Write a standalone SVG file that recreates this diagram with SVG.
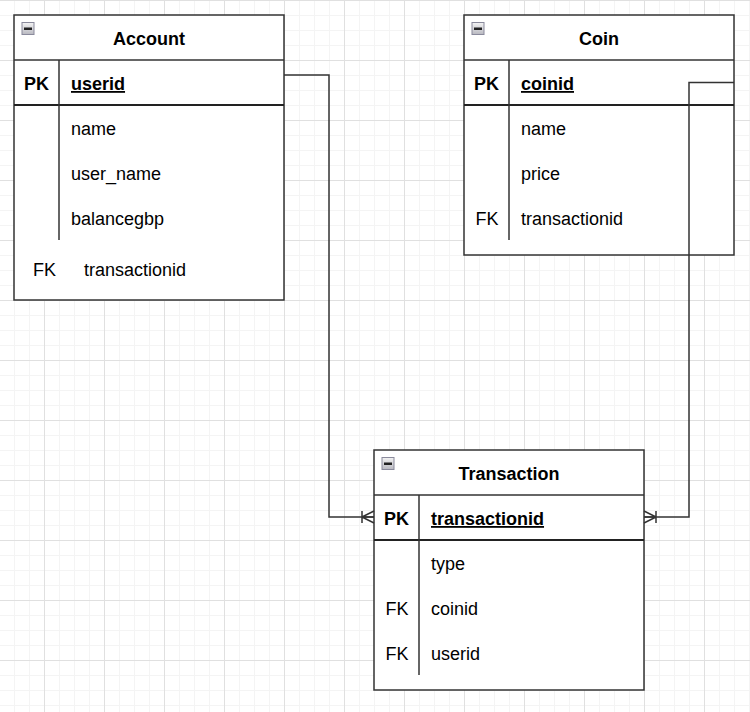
<svg xmlns="http://www.w3.org/2000/svg" width="750" height="712" viewBox="0 0 750 712">
<style>
.box{fill:#fff;stroke:#333;stroke-width:1.5}
.ln{stroke:#333;stroke-width:1.5;fill:none}
.pkln{stroke:#222;stroke-width:2;fill:none}
.t{font-family:"Liberation Sans",Arial,Helvetica,sans-serif;font-size:18px;fill:#000}
.b{font-weight:bold}
.c{text-anchor:middle}
.u{text-decoration:underline}
.conn{stroke:#333;stroke-width:1.5;fill:none}
</style>
<defs>
<pattern id="gMinor" patternUnits="userSpaceOnUse" x="14" y="0" width="15" height="15">
<path d="M0,0.5 H15 M0.5,0 V15" stroke="#f4f4f4" stroke-width="1" fill="none"/>
</pattern>
<pattern id="gMajor" patternUnits="userSpaceOnUse" x="44" y="0" width="60" height="60">
<path d="M0,0.5 H60 M0.5,0 V60" stroke="#e0e0e0" stroke-width="1" fill="none"/>
</pattern>
<linearGradient id="icoG" x1="0" y1="0" x2="0" y2="1">
<stop offset="0" stop-color="#f4f4f4"/>
<stop offset="1" stop-color="#b8b8c0"/>
</linearGradient>
<g id="ico">
<rect x="0.5" y="0.5" width="12" height="12" fill="url(#icoG)" stroke="#8a8a9c" stroke-width="1"/>
<rect x="2.5" y="5.5" width="8" height="2.5" fill="#222"/>
</g>
<marker id="oneMany" viewBox="0 0 14 14" markerWidth="14" markerHeight="14" refX="14" refY="7" orient="auto" markerUnits="userSpaceOnUse" overflow="visible">
<path d="M2,1 V13 M2,7 L14,1 M2,7 L14,13 M2,7 H14" stroke="#333" stroke-width="1.5" fill="none"/>
</marker>
</defs>
<rect width="750" height="712" fill="#fff"/>
<rect width="750" height="712" fill="url(#gMinor)"/>
<rect width="750" height="712" fill="url(#gMajor)"/>

<g id="account">
<rect class="box" x="14" y="15" width="270" height="285"/>
<line class="ln" x1="14" y1="60" x2="284" y2="60"/>
<line class="pkln" x1="14" y1="105" x2="284" y2="105"/>
<line class="ln" x1="59" y1="60" x2="59" y2="240"/>
<use href="#ico" x="21.5" y="22"/>
<text class="t b c" x="149" y="45">Account</text>
<text class="t b c" x="36.5" y="90">PK</text>
<text class="t b u" x="71" y="90">userid</text>
<text class="t" x="71" y="135">name</text>
<text class="t" x="71" y="180">user_name</text>
<text class="t" x="71" y="225">balancegbp</text>
<text class="t" x="33" y="276">FK</text>
<text class="t" x="84" y="276">transactionid</text>
</g>

<g id="coin">
<rect class="box" x="464" y="15" width="270" height="240"/>
<line class="ln" x1="464" y1="60" x2="734" y2="60"/>
<line class="pkln" x1="464" y1="105" x2="734" y2="105"/>
<line class="ln" x1="509" y1="60" x2="509" y2="240"/>
<use href="#ico" x="471.5" y="22"/>
<text class="t b c" x="599" y="45">Coin</text>
<text class="t b c" x="486.5" y="90">PK</text>
<text class="t b u" x="521" y="90">coinid</text>
<text class="t" x="521" y="135">name</text>
<text class="t" x="521" y="180">price</text>
<text class="t c" x="487" y="225">FK</text>
<text class="t" x="521" y="225">transactionid</text>
</g>

<g id="transaction">
<rect class="box" x="374" y="450" width="270" height="240"/>
<line class="ln" x1="374" y1="495" x2="644" y2="495"/>
<line class="pkln" x1="374" y1="540" x2="644" y2="540"/>
<line class="ln" x1="419" y1="495" x2="419" y2="675"/>
<use href="#ico" x="381.5" y="457"/>
<text class="t b c" x="509" y="480">Transaction</text>
<text class="t b c" x="396.5" y="525">PK</text>
<text class="t b u" x="431" y="525">transactionid</text>
<text class="t" x="431" y="570">type</text>
<text class="t c" x="397" y="615">FK</text>
<text class="t" x="431" y="615">coinid</text>
<text class="t c" x="397" y="660">FK</text>
<text class="t" x="431" y="660">userid</text>
</g>

<g id="connectors">
<path class="conn" d="M284,75 H329 V517 H374" marker-end="url(#oneMany)"/>
<path class="conn" d="M734,82.5 H689 V517 H644" marker-end="url(#oneMany)"/>
</g>
</svg>
